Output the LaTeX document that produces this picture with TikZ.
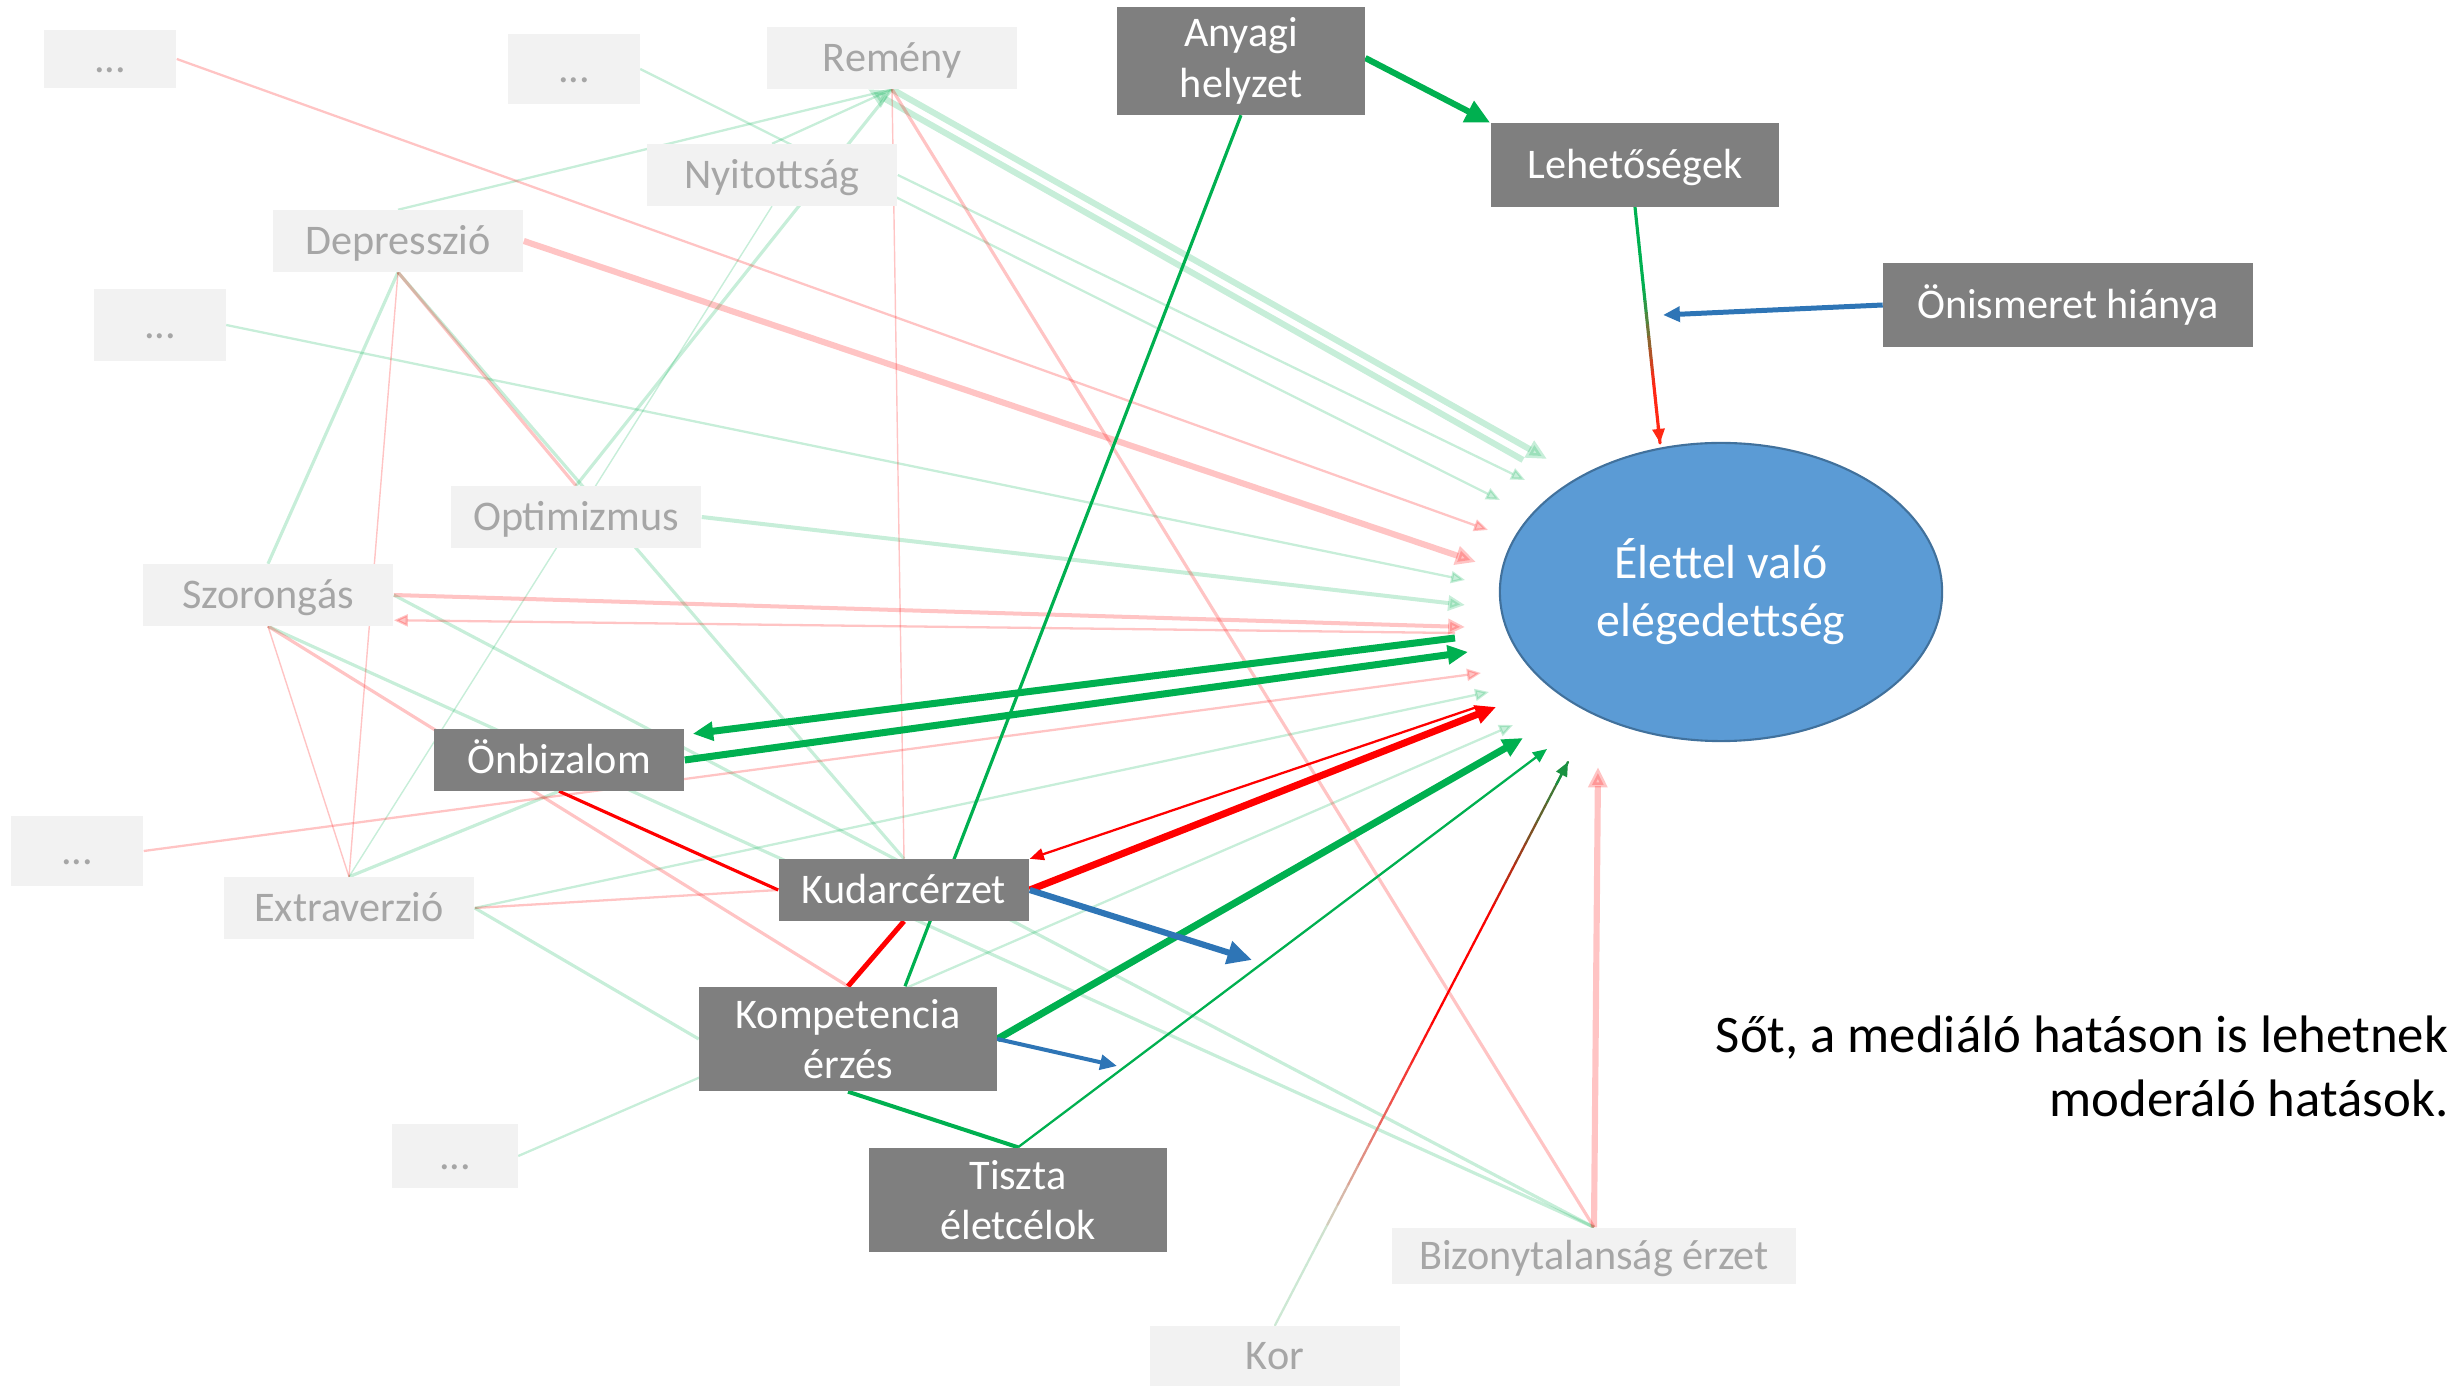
\documentclass[tikz,border=0pt]{standalone}
\usepackage{fontspec}
\setmainfont{Carlito}
\usetikzlibrary{arrows.meta,calc,backgrounds,shapes.geometric}
\definecolor{gbox}{RGB}{127,127,127}
\definecolor{lbox}{RGB}{242,242,242}
\definecolor{ltext}{RGB}{166,166,166}
\definecolor{ogreen}{RGB}{0,176,80}
\definecolor{ored}{RGB}{255,0,0}
\definecolor{oblue}{RGB}{46,117,182}
\definecolor{efill}{RGB}{91,155,213}
\definecolor{edraw}{RGB}{65,113,156}
\definecolor{kcz}{RGB}{205,232,212}
\definecolor{kcg}{RGB}{25,145,65}
\definecolor{lhr}{RGB}{255,40,20}
\begin{document}
\begin{tikzpicture}[x=0.01cm,y=-0.01cm,
  txt/.style={font=\fontsize{12}{14.4}\selectfont, inner sep=0pt},
  lbx/.style={txt, fill=lbox, text=ltext},
  dbx/.style={txt, fill=gbox, text=white},
  one/.style={text height=7.8pt, text depth=0pt},
  lg/.style={draw=ogreen, opacity=0.22},
  lr/.style={draw=ored, opacity=0.23},
  lw1/.style={line width=0.4pt},
  lw2/.style={line width=0.65pt},
  lw3/.style={line width=0.9pt},
  lw4/.style={line width=1.14pt},
  lw5/.style={line width=1.42pt},
  lw6/.style={line width=1.75pt},
  lw7/.style={line width=2pt},
  ah1/.style={-{Triangle[length=4pt,width=3.4pt]}},
  ah2/.style={-{Triangle[length=4.8pt,width=4.2pt]}},
  ah3/.style={-{Triangle[length=5.8pt,width=5.2pt]}},
  ah4/.style={-{Triangle[length=7pt,width=6.4pt]}}
]
\useasboundingbox (0,0) rectangle (2458,1386);

% ---------- nodes ----------
\node[lbx,one,minimum width=1.32cm,minimum height=0.58cm] (dots1) at (110,59) {...};
\node[lbx,one,minimum width=1.31cm,minimum height=0.70cm] (dots2) at (574,69) {...};
\node[lbx,one,minimum width=2.50cm,minimum height=0.61cm] (remeny) at (892,58) {Remény};
\node[lbx,one,minimum width=2.50cm,minimum height=0.61cm] (nyit) at (772,175) {Nyitottság};
\node[lbx,one,minimum width=2.50cm,minimum height=0.61cm] (depr) at (398,241) {Depresszió};
\node[lbx,one,minimum width=1.31cm,minimum height=0.71cm] (dots3) at (160,325) {...};
\node[lbx,one,minimum width=2.50cm,minimum height=0.61cm] (opt) at (576,517) {Optimizmus};
\node[lbx,one,minimum width=2.50cm,minimum height=0.61cm] (szor) at (268,595) {Szorongás};
\node[dbx,one,minimum width=2.50cm,minimum height=0.61cm] (onb) at (559,760) {Önbizalom};
\node[lbx,one,minimum width=1.32cm,minimum height=0.70cm] (dotsL) at (77,851) {...};
\node[lbx,one,minimum width=2.50cm,minimum height=0.61cm] (extra) at (349,908) {Extraverzió};
\node[dbx,one,minimum width=2.50cm,minimum height=0.61cm] (kud) at (904,890) {Kudarcérzet};
\node[dbx,align=center,minimum width=2.97cm,minimum height=1.04cm] (komp) at (848,1039) {Kompetencia\\érzés};
\node[lbx,one,minimum width=1.25cm,minimum height=0.63cm] (dotsB) at (455,1156) {...};
\node[dbx,align=center,minimum width=2.97cm,minimum height=1.04cm] (tiszta) at (1018,1200) {Tiszta\\életcélok};
\node[lbx,one,minimum width=4.04cm,minimum height=0.56cm] (bizo) at (1594,1256) {Bizonytalanság érzet};
\node[lbx,one,minimum width=2.50cm,minimum height=0.60cm] (kor) at (1275,1356) {Kor};
\node[dbx,align=center,minimum width=2.47cm,minimum height=1.07cm] (anyagi) at (1241,61) {Anyagi\\helyzet};
\node[dbx,one,minimum width=2.88cm,minimum height=0.83cm] (leh) at (1635,165) {Lehetőségek};
\node[dbx,one,minimum width=3.69cm,minimum height=0.83cm] (onis) at (2068,305) {Önismeret hiánya};
\node[ellipse,draw=edraw,line width=0.6pt,fill=efill,text=white,align=center,
      minimum width=4.42cm,minimum height=2.98cm,inner sep=0pt,
      font=\fontsize{13.6}{16.5}\selectfont] (ell) at (1721,592) {Élettel való\\elégedettség};
\node[anchor=east,align=right,inner sep=0pt,font=\fontsize{15}{18.2}\selectfont] (note) at (2449,1066)
  {Sőt, a mediáló hatáson is lehetnek\\moderáló hatások.};

% ---------- arrow end points near the ellipse ----------
\coordinate (e1) at (1547,459);
\coordinate (e2) at (1523,460);
\coordinate (e3) at (1525,480);
\coordinate (e4) at (1500,500);
\coordinate (e5) at (1488,530);
\coordinate (e6) at (1476,562);
\coordinate (e7) at (1465,580);
\coordinate (e8) at (1465,605);
\coordinate (e9) at (1465,627);
\coordinate (e10) at (1455,633);
\coordinate (e11) at (1455,638);
\coordinate (e12) at (1468,652);
\coordinate (e13) at (1481,673);
\coordinate (e14) at (1489,692);
\coordinate (e15) at (1477,707);
\coordinate (e16) at (1496,707);
\coordinate (e17) at (1513,725);
\coordinate (e18) at (1523,738);
\coordinate (e19) at (1547,749);
\coordinate (e20) at (1568,762);
\coordinate (e21) at (1598,767);
\coordinate (etop) at (1660,443);
\coordinate (emid) at (1663,315);
\coordinate (bk) at (1252,960);
\coordinate (bc) at (1117,1066);

% ---------- connectors ----------
\begin{pgfonlayer}{background}
% light green
\draw[lg,lw2] (depr.north) -- (remeny.south);
\draw[lg,lw2] (nyit.north) -- (remeny.south);
\draw[lg,lw3] (opt.north) -- (remeny.south);
\draw[lg,lw6,ah3] (remeny.south) -- (e1);
\draw[lg,lw6,ah3] (e2) -- ($(remeny.south)+(-24,0)$);
\draw[lg,lw2,ah1] (nyit.east) -- (e3);
\draw[lg,lw2,ah1] (dots2.east) -- (e4);
\draw[lg,lw2,ah1] (dots3.east) -- (e7);
\draw[lg,lw4,ah2] (opt.east) -- (e8);
\draw[lg,lw2,ah1] (extra.east) -- (e14);
\draw[lg,lw2,ah1] (dotsB.east) -- (e17);
\draw[lg,lw3] (depr.south) -- (szor.north);
\draw[lg,lw3] (depr.south) -- (kud.north);
\draw[lg,lw1] (nyit.south) -- (extra.north);
\draw[lg,lw3] (szor.south) -- (bizo.north);
\draw[lg,lw3] (szor.east) -- (bizo.north);
\draw[lg,lw3] (extra.north) -- (onb.south);
\draw[lg,lw3] (extra.east) -- (komp.west);
% light red
\draw[lr,lw3] (remeny.south) -- (bizo.north);
\draw[lr,lw1] (remeny.south) -- (kud.north);
\draw[lr,lw2,ah1] (dots1.east) -- (e5);
\draw[lr,lw6,ah3] (depr.east) -- (e6);
\draw[lr,lw4,ah2] (szor.east) -- (e9);
\draw[lr,lw2,ah1] (e10) -- ($(szor.south east)+(0,-6)$);
\draw[lr,lw2,ah1] (dotsL.east) -- (e13);
\draw[lr,lw6,ah3] (bizo.north) -- (e21);
\draw[lr,lw1] (depr.south) -- (extra.north);
\draw[lr,lw3] (depr.south) -- (opt.north);
\draw[lr,lw1] (szor.south) -- (extra.north);
\draw[lr,lw3] (szor.south) -- (komp.north);
\draw[lr,lw2] (extra.east) -- (kud.west);
% strong
\draw[ogreen,lw3] (anyagi.south) -- ($(komp.north)+(57,0)$);
\draw[ogreen,lw6,ah4] ($(anyagi.east)+(0,-3)$) -- (leh.north west);
\draw[ogreen,lw7,ah3] (e11) -- ($(onb.north east)+(8,5)$);
\draw[ogreen,lw7,ah3] (onb.east) -- (e12);
\draw[ored,lw3] (onb.south) -- (kud.west);
\draw[ored,lw5] (kud.south) -- (komp.north);
\draw[ored,lw2,ah1] (e15) -- (kud.north east);
\draw[ored,lw7,ah3] (kud.east) -- (e16);
\draw[ogreen,lw7,ah3] (komp.east) -- (e18);
\draw[ogreen,lw4] (komp.south) -- (tiszta.north);
\draw[ogreen,lw2,ah1] (tiszta.north) -- (e19);
\draw[oblue,lw6,ah4] (kud.east) -- (bk);
\draw[oblue,lw4,ah2] (komp.east) -- (bc);
\draw[oblue,lw5,ah2] (onis.west) -- (emid);
% gradient: Kor (light green -> red -> dark green)
\foreach \i in {0,...,27}{
  \pgfmathsetmacro\ta{\i/28}
  \pgfmathsetmacro\tb{(\i+1)/28}
  \pgfmathsetmacro\tm{(\i+0.5)/28}
  \pgfmathsetmacro\pa{max(0,min(100,(\tm-0.15)*250))}
  \pgfmathsetmacro\pb{max(0,min(100,(\tm-0.72)*360))}
  \colorlet{segc}{ored!\pa!kcz}
  \colorlet{segc}{kcg!\pb!segc}
  \draw[segc,lw2,line cap=round] ($(kor.north)!\ta!(e20)$) -- ($(kor.north)!\tb!(e20)$);
}
\draw[kcg,lw2,ah1] ($(kor.north)!0.96!(e20)$) -- (e20);
% gradient: Lehetőségek (green -> red)
\foreach \i in {0,...,19}{
  \pgfmathsetmacro\ta{\i/20}
  \pgfmathsetmacro\tb{(\i+1)/20}
  \pgfmathsetmacro\tm{(\i+0.5)/20}
  \pgfmathsetmacro\pa{max(0,min(100,(\tm-0.35)*250))}
  \colorlet{segc}{lhr!\pa!ogreen}
  \draw[segc,lw3,line cap=round] ($(leh.south)!\ta!(etop)$) -- ($(leh.south)!\tb!(etop)$);
}
\draw[lhr,lw3,ah1] ($(leh.south)!0.93!(etop)$) -- (etop);
\end{pgfonlayer}
\end{tikzpicture}
\end{document}
